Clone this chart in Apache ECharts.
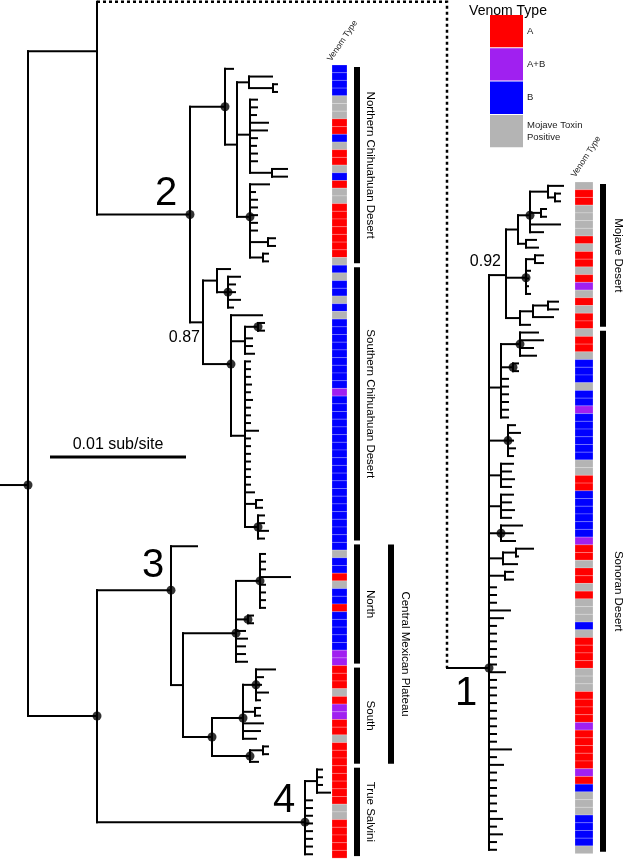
<!DOCTYPE html>
<html>
<head>
<meta charset="utf-8">
<script src="https://cdn.jsdelivr.net/npm/echarts@6.0.0/dist/echarts.min.js"></script>
<style>
html,body{margin:0;padding:0;background:#fff;}
#chart{width:623px;height:861px;}
</style>
</head>
<body>
<div id="chart"></div>
<script>
// ================= DATA =================
const venomTypes  = ['A', 'A+B', 'B', 'Mojave Toxin\nPositive'];
const venomCodes  = ['R', 'P', 'B', 'G'];
const venomColors = ['#ff0000', '#a020f0', '#0000ff', '#b4b4b4'];

// venom type of each tip, top to bottom (R=A, P=A+B, B=B, G=Mojave toxin positive)
const venomNorthernChihuahuan = 'BBBBGGGRRBGRRGBRGGRRRRRRRG';
const venomSouthernChihuahuan = 'BGBBGBGBBBBBBBBBPBBBBBBBBBBBBBBBBBBB';
const venomCMPNorth           = 'BGBBRGBBRBBBBBPP';
const venomCMPSouth           = 'RRRGRPPRRGRRR';
const venomTrueSalvini        = 'RRRRRGGRRRRR';
const venomMojave             = 'GRRGGGGRGRRGRPGRGRR';
const venomSonoran            = 'GRRGBBBGBBPBBBBBBGGRRBBBBBBPRRGRRGRGGGBGRRRRGGGRRRRPRRRRRPRBGGGBBBBG';

// region bars: [label, first tip, last tip]
const regionsLeft  = [['Northern Chihuahuan Desert', 0, 25], ['Southern Chihuahuan Desert', 26, 61],
                      ['North', 62, 77], ['South', 78, 90], ['True Salvini', 91, 102]];
const regionsLeft2 = [['Central Mexican Plateau', 62, 90]];
const regionsRight = [['Mojave Desert', 0, 18], ['Sonoran Desert', 19, 86]];

// scale bar: 0.01 substitutions/site = 136 distance units
const scaleBar = { length: 136, label: '0.01 sub/site' };

// tree: N(depth, ...children) plain node, D(...) node with support dot,
// a bare number is a tip (its depth). Depth = distance from the root.
const N = (d, ...c) => ({ d, c, dot: false });
const D = (d, ...c) => ({ d, c, dot: true });
const at = (y, n) => { n.fixY = y; return n; };
const LINK = y => ({ link: y });

const northern = D(197,
  205,
  N(209,
    N(221, 244, N(245, 249, 249)),
    N(222, 229, 229, 228, 240, 239, 229, 228, 229, 229, N(244, 259, 259)),
    D(222, 241, 227, 229, 229, 229, 229, 229, N(240, 247, 247), N(235, 240, 240))));

const southern = N(175,
  N(189, 202, D(200, 212, 207, 207, 212, 205)),
  D(203,
    234,
    N(217, D(230, 236, 236), 224, 224, 226),
    N(217, 222, 222, 222, 223, 222, 224, 222, 222, 222, 230, 222, 222, 222, 222, 222, 222, 222, 226,
      N(228, 234, 234), D(230, 236, 236, 240, 236))));

const clade2 = D(162, northern, southern);

const clade3 = at(67.7, D(143,
  169,
  N(155,
    D(208,
      D(232, 237, 237, 237, 262, 237, 237, 237, 237),
      D(220, 225, 225),
      217, 219, 217, 217, 219),
    D(184,
      D(215, D(228, 247, 235, 233, 240, 232), N(227, 232, 232), 235, 232, 228),
      D(222, N(235, 240, 240), 230)))));

const clade4 = D(277, N(289, 294, 294, 294, 302), 284, 284, 284, 284, 284, 284, 284, 284);

const nodeA = at(-2.3, D(69, LINK(-8.7), clade2));
const nodeB = at(84.05, D(69, clade3, clade4));
const leftRoot = at(54.05, D(0, nodeA, nodeB));

const mojave = N(128,
  N(140, D(152, N(170, 185, N(177, 182, 182)), N(163, 168, 168), 182, 165), N(148, 158, 160)),
  D(148, N(157, 165, 165), 152, 150, 150, 152),
  N(142, N(155, N(170, 180, 180), 175), 152));

const sonoranA = N(123, D(142, 160, 165, 155, 158), D(135, 140, 140), 130, 130, 130, 130, 130, 130);
const sonoranB = D(130, 137, 142, 135, 137, 135);
const sonoranC = N(123, 135, 133, 136, 133);
const sonoranD = N(123, 135, 133, 136, 133);
const sonoranE = D(123, 144, 135, 137);
const sonoranF = N(125, N(138, 155, 140), 139);
const sonoranG = N(127, 135, 135);
const sonoranTips = [118, 118, 118, 132, 125, 118, 118, 118, 118, 118, 118, 127, 118, 118, 118, 118, 118,
  118, 118, 118, 118, 133, 118, 125, 118, 118, 118, 118, 118, 118, 124, 118, 124, 118, 118];

const clade1 = at(62.45, D(111, mojave, sonoranA, sonoranB, sonoranC, sonoranD, sonoranE, sonoranF, sonoranG, ...sonoranTips));

// ================= LAYOUT =================
function layoutTree(root, stemFrom) {
  let k = 0; const segs = [], dots = [];
  (function visit(n, pd) {
    if (typeof n === 'number') { const y = k++; segs.push([pd, y, n, y]); return y; }
    if (n.link !== undefined) return n.link;
    const ys = n.c.map(ch => visit(ch, n.d));
    const y = n.fixY !== undefined ? n.fixY : ys.reduce((a, b) => a + b, 0) / ys.length;
    n.y = y;
    segs.push([n.d, Math.min(y, ...ys), n.d, Math.max(y, ...ys)]);
    if (pd !== null) segs.push([pd, y, n.d, y]);
    if (n.dot) dots.push([n.d, y]);
    return y;
  })(root, stemFrom);
  return { segs, dots, leaves: k };
}
const L = layoutTree(leftRoot, -28);
const R = layoutTree(clade1, nodeA.d);

const toIdx = s => s.split('').map(ch => venomCodes.indexOf(ch));
const cellsLeft = toIdx(venomNorthernChihuahuan + venomSouthernChihuahuan + venomCMPNorth + venomCMPSouth + venomTrueSalvini);
const cellsRight = toIdx(venomMojave + venomSonoran);

const FONT = "'Liberation Sans', Arial, Helvetica, sans-serif";

// ================= SERIES =================
function segSeries(gi, segs) {
  return {
    type: 'custom', xAxisIndex: gi, yAxisIndex: gi, silent: true, clip: false, z: 3,
    data: segs,
    renderItem(p, api) {
      const a = api.coord([api.value(0), api.value(1)]);
      const b = api.coord([api.value(2), api.value(3)]);
      return { type: 'line', shape: { x1: a[0], y1: a[1], x2: b[0], y2: b[1] },
        style: { stroke: '#000', lineWidth: 2, lineCap: 'square' } };
    }
  };
}
function dotSeries(gi, dots) {
  return { type: 'scatter', xAxisIndex: gi, yAxisIndex: gi, data: dots, symbolSize: 9, silent: true, z: 4,
    itemStyle: { color: '#000' } };
}
function stripSeries(gi, cells, x0, x1) {
  return {
    type: 'custom', xAxisIndex: gi, yAxisIndex: gi, silent: true, clip: false,
    data: cells.map((c, i) => [i, c]),
    renderItem(p, api) {
      const i = api.value(0), c = api.value(1);
      const a = api.coord([x0, i - 0.5]), b = api.coord([x1, i + 0.5]);
      return { type: 'rect', shape: { x: a[0], y: a[1], width: b[0] - a[0], height: b[1] - a[1] },
        style: { fill: venomColors[c], stroke: 'rgba(255,255,255,0.35)', lineWidth: 0.6 } };
    }
  };
}
function barSeries(gi, regions, x0, x1, xl, fs) {
  return {
    type: 'custom', xAxisIndex: gi, yAxisIndex: gi, silent: true, clip: false,
    data: regions.map((r, i) => [r[1], r[2], i]),
    renderItem(p, api) {
      const s = api.value(0), e = api.value(1), i = api.value(2);
      const a = api.coord([x0, s - 0.5]), b = api.coord([x1, e + 0.5]);
      const t = api.coord([xl, (s + e) / 2]);
      return { type: 'group', children: [
        { type: 'rect', shape: { x: a[0], y: a[1] + 2, width: b[0] - a[0], height: b[1] - a[1] - 4 }, style: { fill: '#000' } },
        { type: 'text', x: t[0], y: t[1], rotation: -Math.PI / 2,
          style: { text: regions[i][0], fontSize: fs, fontFamily: FONT, fill: '#000', align: 'center', verticalAlign: 'middle' } }
      ] };
    }
  };
}
function labelSeries(gi, items) {
  return {
    type: 'custom', xAxisIndex: gi, yAxisIndex: gi, silent: true, clip: false, z: 5,
    data: items.map((it, i) => [it.node.d, it.node.y, i]),
    renderItem(p, api) {
      const it = items[api.value(2)];
      const c = api.coord([api.value(0), api.value(1)]);
      return { type: 'text', x: c[0] + it.dx, y: c[1] + it.dy,
        style: { text: it.text, fontSize: it.size, fontFamily: FONT, fill: '#000', align: it.align, verticalAlign: 'middle' } };
    }
  };
}

const labelsLeft = [
  { node: clade2, text: '2', size: 40, dx: -24, dy: -21, align: 'center' },
  { node: clade3, text: '3', size: 40, dx: -18, dy: -24, align: 'center' },
  { node: clade4, text: '4', size: 40, dx: -21, dy: -21, align: 'center' },
  { node: southern, text: '0.87', size: 16, dx: -3, dy: 15, align: 'right' }
];
const labelsRight = [
  { node: clade1, text: '1', size: 40, dx: -23, dy: 26, align: 'center' },
  { node: mojave, text: '0.92', size: 16, dx: -5, dy: -14, align: 'right' }
];

const scaleSeries = {
  type: 'custom', xAxisIndex: 0, yAxisIndex: 0, silent: true, clip: false,
  data: [[22, 50.4, 22 + scaleBar.length]],
  renderItem(p, api) {
    const a = api.coord([api.value(0), api.value(1)]), b = api.coord([api.value(2), api.value(1)]);
    return { type: 'group', children: [
      { type: 'line', shape: { x1: a[0], y1: a[1], x2: b[0], y2: b[1] }, style: { stroke: '#000', lineWidth: 3 } },
      { type: 'text', x: (a[0] + b[0]) / 2, y: a[1] - 12,
        style: { text: scaleBar.label, fontSize: 16, fontFamily: FONT, fill: '#000', align: 'center', verticalAlign: 'middle' } }
    ] };
  }
};

const chart = echarts.init(document.getElementById('chart'), null, { renderer: 'canvas' });
chart.setOption({
  animation: false,
  backgroundColor: '#fff',
  grid: [
    { left: 0, top: 65, width: 623, height: 103 * 7.7 },
    { left: 350, top: 182, width: 273, height: 87 * 7.72 }
  ],
  xAxis: [
    { type: 'value', gridIndex: 0, min: -28, max: 595, show: false },
    { type: 'value', gridIndex: 1, min: -28, max: 245, show: false }
  ],
  yAxis: [
    { type: 'value', gridIndex: 0, min: -0.5, max: L.leaves - 0.5, inverse: true, show: false },
    { type: 'value', gridIndex: 1, min: -0.5, max: R.leaves - 0.5, inverse: true, show: false }
  ],
  series: [
    stripSeries(0, cellsLeft, 304, 319),
    stripSeries(1, cellsRight, 197, 215),
    barSeries(0, regionsLeft, 326, 332, 342, 11.5),
    barSeries(0, regionsLeft2, 360, 366, 377, 11.5),
    barSeries(1, regionsRight, 222, 228, 240, 11.5),
    segSeries(0, L.segs),
    segSeries(1, R.segs),
    dotSeries(0, L.dots),
    dotSeries(1, R.dots),
    labelSeries(0, labelsLeft),
    labelSeries(1, labelsRight),
    scaleSeries
  ]
});

// connector from node A to clade 1, column headers, legend
const pA = chart.convertToPixel({ gridIndex: 0 }, [nodeA.d, -8.7]);
const pR = chart.convertToPixel({ gridIndex: 1 }, [nodeA.d, clade1.y]);
const hL = chart.convertToPixel({ gridIndex: 0 }, [305, -0.5]);
const hR = chart.convertToPixel({ gridIndex: 1 }, [199, -0.5]);
const graphic = [
  { type: 'polyline', shape: { points: [[pA[0], pA[1]], [pR[0], pA[1]], [pR[0], pR[1]]] },
    style: { stroke: '#000', lineWidth: 2.5, lineDash: [3, 3], fill: null } },
  { type: 'text', x: hL[0], y: hL[1] - 2, rotation: 56 * Math.PI / 180,
    style: { text: 'Venom Type', fontSize: 8.5, fontFamily: FONT, fill: '#222', align: 'left', verticalAlign: 'bottom' } },
  { type: 'text', x: hR[0], y: hR[1] - 3, rotation: 57 * Math.PI / 180,
    style: { text: 'Venom Type', fontSize: 8.5, fontFamily: FONT, fill: '#222', align: 'left', verticalAlign: 'bottom' } },
  { type: 'text', x: 508, y: 11,
    style: { text: 'Venom Type', fontSize: 14, fontFamily: FONT, fill: '#000', align: 'center', verticalAlign: 'middle' } }
];
venomTypes.forEach((t, i) => {
  graphic.push({ type: 'rect', shape: { x: 490, y: 15 + 33.3 * i, width: 33, height: 32.3 }, style: { fill: venomColors[i] } });
  graphic.push({ type: 'text', x: 527, y: 15 + 33.3 * i + 16,
    style: { text: t, fontSize: 9.5, lineHeight: 12, fontFamily: FONT, fill: '#222', align: 'left', verticalAlign: 'middle' } });
});
chart.setOption({ graphic });
</script>
</body>
</html>
